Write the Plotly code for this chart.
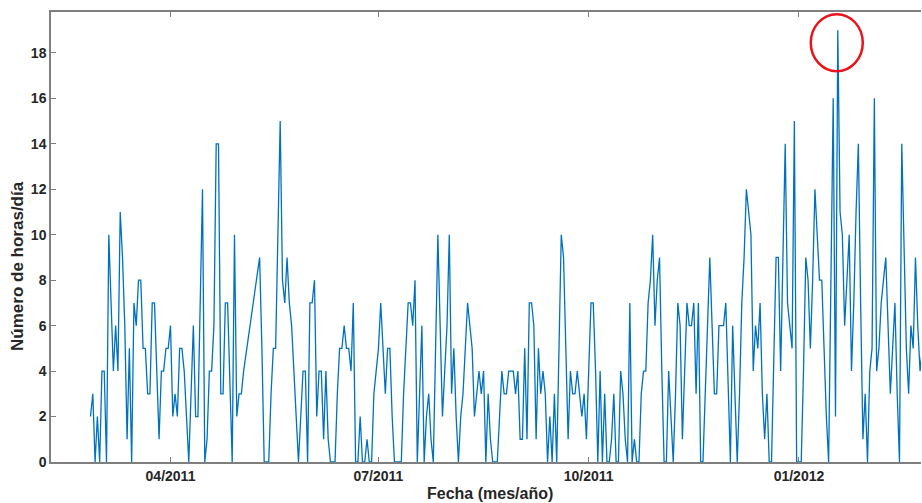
import pandas as pd
import plotly.graph_objects as go

# Daily hours, first value on start_date; None = missing day (line joins across)
start_date = "2011-02-25"
horas = [
    2, 3, 0, 2, 0, 4, 4, 0, 10, 7,
    4, 6, 4, 11, 9, 6, 1, 5, 0, 7,
    6, 8, 8, 5, 5, 3, 3, 7, 7, 4,
    1, 4, 4, 5, 5, 6, 2, 3, 2, 5,
    5, 4, 2, 0, 3, 6, 2, 2, 7, 12,
    0, 1, 4, 4, 6, 14, 14, 3, 3, 7,
    7, 3, 0, 10, 2, 3, 3, 4, None, None,
    None, None, None, None, 9, 5, 0, 0, 0, 3,
    5, 5, 10, 15, 8, 7, 9, 7, 6, 4,
    2, 0, 2, 4, 4, 0, 7, 7, 8, 2,
    4, 4, 1, 4, 1, 0, 0, 0, 3, 5,
    5, 6, 5, 5, 4, 7, 0, 0, 2, 0,
    0, 1, 0, 0, 3, 4, 5, 7, 5, 3,
    5, 5, 2, 0, 0, 0, 0, 3, 5, 7,
    7, 6, 8, 0, 3, 6, 0, 2, 3, 1,
    0, 5, 10, 6, 2, 4, 6, 10, 3, 5,
    2, 0, 2, 3, 5, 7, 6, 5, 2, 3,
    4, 3, 4, 0, 3, 1, 0, 0, 0, 2,
    4, 3, 3, 4, 4, 4, 3, 4, 1, 1,
    5, 1, 7, 7, 6, 1, 5, 3, 4, 3,
    0, 2, 0, 3, 0, 5, 10, 9, 5, 1,
    4, 3, 3, 4, 3, 2, 3, 1, 4, 7,
    7, 4, 0, 4, 0, 3, 0, 0, 1, 3,
    0, 0, 4, 3, 1, 0, 7, 0, 1, 0,
    0, 3, 4, 4, 7, 8, 10, 6, 8, 9,
    4, 0, 0, 4, 2, 0, 3, 7, 6, 1,
    4, 7, 6, 6, 7, 3, 7, 0, 0, 3,
    6, 9, 6, 3, 3, 6, 6, 6, 7, 3,
    0, 6, 3, 0, 3, 7, 9, 12, 11, 10,
    4, 6, 5, 7, 3, 1, 3, 0, 0, 4,
    9, 9, 4, 9, 14, 7, 6, 5, 15, 0,
    0, 0, 4, 9, 8, 5, 8, 12, 10, 8,
    8, 5, 2, 0, 8, 16, 2, 19, 11, 10,
    6, 8, 10, 4, 7, 11, 14, 7, 1, 3,
    0, 4, 5, 16, 4, 5, 7, 8, 9, 6,
    3, 5, 7, 3, 0, 14, 9, 5, 3, 6,
    5, 9, 6, 4, 5,
]

tick_dates = ["2011-04-01", "2011-07-01", "2011-10-01", "2012-01-01"]
tick_labels = ["04/2011", "07/2011", "10/2011", "01/2012"]
y_ticks = [0, 2, 4, 6, 8, 10, 12, 14, 16, 18]

x_title = "Fecha (mes/año)"
y_title = "Número de horas/día"

fechas = pd.date_range(start_date, periods=len(horas), freq="D")
serie = pd.Series(horas, index=fechas, dtype="float")

fig = go.Figure()
fig.add_trace(go.Scatter(
    x=serie.index, y=serie.values, mode="lines",
    connectgaps=True,
    line=dict(color="#0072BD", width=1.3),
    hoverinfo="skip",
))

# red circle around the maximum
peak_date = serie.idxmax()
peak_val = serie.max()
fig.add_shape(
    type="circle", xref="x", yref="y",
    xsizemode="pixel", ysizemode="pixel",
    xanchor=peak_date, yanchor=peak_val,
    x0=-27, x1=25, y0=-41, y1=16,
    line=dict(color="#E8141B", width=2.5),
)

FONT = "Liberation Sans, Arial, sans-serif"
TXT = "#262626"
AX = "#7f7f7f"

fig.update_layout(
    width=922, height=503,
    margin=dict(l=51, r=1, t=12, b=41),
    paper_bgcolor="white", plot_bgcolor="white",
    showlegend=False,
    font=dict(family=FONT, color=TXT),
    xaxis=dict(
        type="date",
        range=["2011-02-07 17:00", "2012-02-23 10:00"],
        tickvals=tick_dates, ticktext=tick_labels,
        ticks="inside", ticklen=5, tickwidth=1, tickcolor=AX,
        showline=True, linecolor=AX, linewidth=1.5, mirror="ticks",
        showgrid=False, zeroline=False,
        tickfont=dict(size=14, family=FONT, color=TXT, weight="bold"),
    ),
    yaxis=dict(
        range=[0, 19.8],
        tickvals=y_ticks,
        ticks="inside", ticklen=5, tickwidth=1, tickcolor=AX,
        showline=True, linecolor=AX, linewidth=1.5, mirror=False,
        showgrid=False, zeroline=False,
        tickfont=dict(size=14, family=FONT, color=TXT, weight="bold"),
    ),
    annotations=[
        dict(text=x_title, xref="paper", yref="paper", x=0.5046, y=-0.071,
             xanchor="center", yanchor="middle", showarrow=False,
             font=dict(size=16, family=FONT, color=TXT, weight="bold")),
        dict(text=y_title, xref="paper", yref="paper", x=-0.038, y=0.4356,
             xanchor="center", yanchor="middle", showarrow=False, textangle=-90,
             font=dict(size=17, family=FONT, color=TXT, weight="bold")),
    ],
)

fig.write_html("out.html")
